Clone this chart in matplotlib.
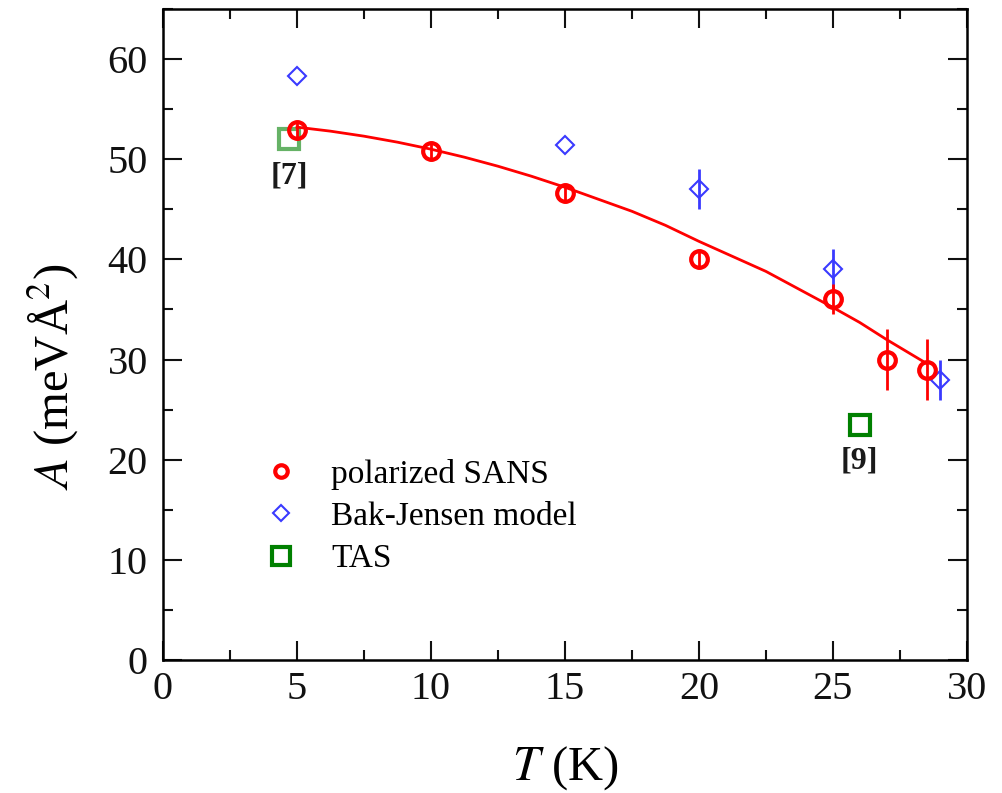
import numpy as np
import matplotlib.pyplot as plt
from matplotlib.ticker import MultipleLocator
from matplotlib.lines import Line2D

plt.rcParams['font.family'] = ['Liberation Serif', 'DejaVu Serif']
plt.rcParams['mathtext.fontset'] = 'stix'

# polarized SANS
T_sans = [5, 10, 15, 20, 25, 27, 28.5]
A_sans = [52.9, 50.8, 46.6, 40.0, 36.0, 30.0, 29.0]
err_sans = [1.0, 1.0, 1.0, 1.0, 1.5, 3.0, 3.0]

# Bak-Jensen model
T_bj = [5, 15, 20, 25, 29]
A_bj = [58.3, 51.4, 47.0, 39.0, 28.0]
err_bj = [0.0, 0.0, 2.0, 2.0, 2.0]

# TAS
T_tas = [4.7, 26.0]
A_tas = [52.0, 23.5]
refs = ['[7]', '[9]']

# fitted curve
T_fit = [5, 6.25, 7.5, 8.75, 10, 11.25, 12.5, 13.75, 15, 16.25, 17.5, 18.75,
         20, 21.25, 22.5, 23.75, 25, 26, 27, 28, 28.5]
A_fit = [53.2, 52.8, 52.3, 51.7, 51.0, 50.2, 49.3, 48.3, 47.2, 46.0, 44.8, 43.4,
         41.8, 40.3, 38.8, 37.0, 35.2, 33.7, 32.0, 30.4, 29.6]

fig = plt.figure(figsize=(10.03, 7.93), dpi=100)
ax = fig.add_axes([0.1625, 0.1677, 0.8015, 0.821])

ax.plot(T_fit, A_fit, color='red', lw=2, zorder=2)

ax.errorbar(T_bj, A_bj, yerr=err_bj, fmt='D', ms=9, mfc='none', mec='#3a3aff',
            mew=1.5, ecolor='#3a3aff', elinewidth=2, capsize=0, zorder=3)
ax.errorbar(T_sans, A_sans, yerr=err_sans, fmt='o', ms=12, mfc='none', mec='red',
            mew=3, ecolor='red', elinewidth=2, capsize=0, zorder=4)
ax.plot(T_tas[:1], A_tas[:1], 's', ms=15, mfc='none', mec='green', mew=3,
        alpha=0.6, zorder=1)
ax.plot(T_tas[1:], A_tas[1:], 's', ms=15, mfc='none', mec='green', mew=3,
        zorder=1)

for t, a, r in zip(T_tas, A_tas, refs):
    ax.text(t, a - 2.2, r, ha='center', va='top', fontsize=23,
            fontweight='bold', color='#1a1a1a')

ax.set_xlim(0, 30)
ax.set_ylim(0, 65)
ax.xaxis.set_major_locator(MultipleLocator(5))
ax.xaxis.set_minor_locator(MultipleLocator(2.5))
ax.yaxis.set_major_locator(MultipleLocator(10))
ax.yaxis.set_minor_locator(MultipleLocator(5))
ax.tick_params(which='both', direction='in', top=True, right=True,
               width=1.5, labelsize=29, colors='#111111')
ax.tick_params(which='major', length=14)
ax.tick_params(axis='y', which='major', pad=11)
ax.tick_params(axis='x', which='major', pad=8)
ax.tick_params(which='minor', length=7)
for s in ax.spines.values():
    s.set_linewidth(1.8)

ax.set_xlabel(r'$T$ (K)', fontsize=35)
ax.xaxis.set_label_coords(0.5, -0.13)
ax.set_ylabel(r'$A$ (meVÅ$^2$)', fontsize=35)
ax.yaxis.set_label_coords(-0.102, 0.435)

handles = [
    Line2D([], [], ls='none', marker='o', ms=9, mfc='none', mec='red', mew=3),
    Line2D([], [], ls='none', marker='D', ms=8, mfc='none', mec='#3a3aff', mew=1.5),
    Line2D([], [], ls='none', marker='s', ms=13, mfc='none', mec='green', mew=3),
]
labels = ['polarized SANS', 'Bak-Jensen model', 'TAS']
ax.legend(handles, labels, loc='upper left', bbox_to_anchor=(0.079, 0.355),
          frameon=False, fontsize=24, handletextpad=0.75, labelspacing=0.35,
          handlelength=1.5)

fig.savefig('out.png', dpi=100)
